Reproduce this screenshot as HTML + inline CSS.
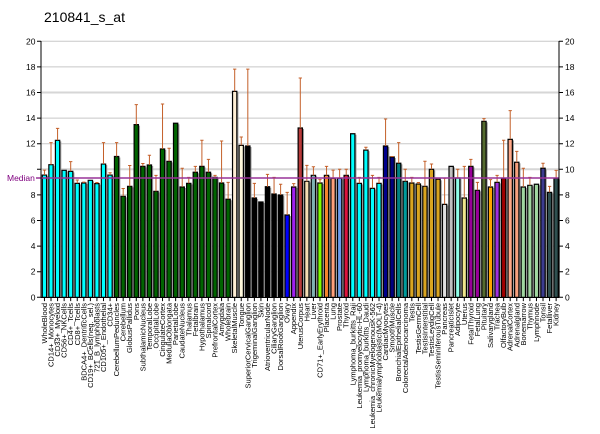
<!DOCTYPE html>
<html><head><meta charset="utf-8"><style>html,body{margin:0;padding:0;background:#fff}svg{display:block}</style></head>
<body>
<svg width="600" height="434" viewBox="0 0 600 434" xmlns="http://www.w3.org/2000/svg" font-family="'Liberation Sans', Arial, sans-serif">
<rect width="600" height="434" fill="#fff"/>
<text x="44" y="22" font-size="14" fill="#000">210841_s_at</text>
<!-- gridlines -->
<g stroke="#c8c8c8" stroke-width="1">
<line x1="41" x2="559" y1="271.7" y2="271.7"/>
<line x1="41" x2="559" y1="246.1" y2="246.1"/>
<line x1="41" x2="559" y1="220.5" y2="220.5"/>
<line x1="41" x2="559" y1="194.9" y2="194.9"/>
<line x1="41" x2="559" y1="169.3" y2="169.3" stroke="#d6d6d6" stroke-width="2"/>
<line x1="41" x2="559" y1="143.7" y2="143.7"/>
<line x1="41" x2="559" y1="118.1" y2="118.1"/>
<line x1="41" x2="559" y1="92.5" y2="92.5" stroke="#d6d6d6" stroke-width="2"/>
<line x1="41" x2="559" y1="66.9" y2="66.9"/>
<line x1="41" x2="559" y1="41.3" y2="41.3"/>
</g>
<g transform="translate(41.7,297.3) scale(6.56,-12.8)">
<!-- shadows -->
<g fill="#a0a0a0">
<rect x="0.23" y="0" width="0.76" height="9.47"/>
<rect x="1.23" y="0" width="0.76" height="10.28"/>
<rect x="2.23" y="0" width="0.76" height="12.18"/>
<rect x="3.23" y="0" width="0.76" height="9.84"/>
<rect x="4.23" y="0" width="0.76" height="9.76"/>
<rect x="5.23" y="0" width="0.76" height="8.82"/>
<rect x="6.23" y="0" width="0.76" height="8.85"/>
<rect x="7.23" y="0" width="0.76" height="9.06"/>
<rect x="8.23" y="0" width="0.76" height="8.8"/>
<rect x="9.23" y="0" width="0.76" height="10.33"/>
<rect x="10.23" y="0" width="0.76" height="9.47"/>
<rect x="11.23" y="0" width="0.76" height="10.92"/>
<rect x="12.23" y="0" width="0.76" height="7.81"/>
<rect x="13.23" y="0" width="0.76" height="8.59"/>
<rect x="14.23" y="0" width="0.76" height="13.41"/>
<rect x="15.23" y="0" width="0.76" height="10.15"/>
<rect x="16.23" y="0" width="0.76" height="10.26"/>
<rect x="17.23" y="0" width="0.76" height="8.2"/>
<rect x="18.23" y="0" width="0.76" height="11.51"/>
<rect x="19.23" y="0" width="0.76" height="10.54"/>
<rect x="20.23" y="0" width="0.76" height="13.52"/>
<rect x="21.23" y="0" width="0.76" height="8.54"/>
<rect x="22.23" y="0" width="0.76" height="8.82"/>
<rect x="23.23" y="0" width="0.76" height="9.69"/>
<rect x="24.23" y="0" width="0.76" height="10.15"/>
<rect x="25.23" y="0" width="0.76" height="9.69"/>
<rect x="26.23" y="0" width="0.76" height="9.29"/>
<rect x="27.23" y="0" width="0.76" height="8.85"/>
<rect x="28.23" y="0" width="0.76" height="7.58"/>
<rect x="29.23" y="0" width="0.76" height="16.01"/>
<rect x="30.23" y="0" width="0.76" height="11.79"/>
<rect x="31.23" y="0" width="0.76" height="11.74"/>
<rect x="32.23" y="0" width="0.76" height="7.68"/>
<rect x="33.23" y="0" width="0.76" height="7.37"/>
<rect x="34.23" y="0" width="0.76" height="8.56"/>
<rect x="35.23" y="0" width="0.76" height="7.99"/>
<rect x="36.23" y="0" width="0.76" height="7.91"/>
<rect x="37.23" y="0" width="0.76" height="6.35"/>
<rect x="38.23" y="0" width="0.76" height="8.54"/>
<rect x="39.23" y="0" width="0.76" height="13.15"/>
<rect x="40.23" y="0" width="0.76" height="8.98"/>
<rect x="41.23" y="0" width="0.76" height="9.45"/>
<rect x="42.23" y="0" width="0.76" height="8.85"/>
<rect x="43.23" y="0" width="0.76" height="9.45"/>
<rect x="44.23" y="0" width="0.76" height="9.22"/>
<rect x="45.23" y="0" width="0.76" height="9.22"/>
<rect x="46.23" y="0" width="0.76" height="9.45"/>
<rect x="47.23" y="0" width="0.76" height="12.7"/>
<rect x="48.23" y="0" width="0.76" height="8.82"/>
<rect x="49.23" y="0" width="0.76" height="11.42"/>
<rect x="50.23" y="0" width="0.76" height="8.43"/>
<rect x="51.23" y="0" width="0.76" height="8.82"/>
<rect x="52.23" y="0" width="0.76" height="11.74"/>
<rect x="53.23" y="0" width="0.76" height="10.88"/>
<rect x="54.23" y="0" width="0.76" height="10.39"/>
<rect x="55.23" y="0" width="0.76" height="8.98"/>
<rect x="56.23" y="0" width="0.76" height="8.85"/>
<rect x="57.23" y="0" width="0.76" height="8.77"/>
<rect x="58.23" y="0" width="0.76" height="8.59"/>
<rect x="59.23" y="0" width="0.76" height="9.92"/>
<rect x="60.23" y="0" width="0.76" height="9.14"/>
<rect x="61.23" y="0" width="0.76" height="7.18"/>
<rect x="62.23" y="0" width="0.76" height="10.15"/>
<rect x="63.23" y="0" width="0.76" height="9.24"/>
<rect x="64.23" y="0" width="0.76" height="7.68"/>
<rect x="65.23" y="0" width="0.76" height="10.15"/>
<rect x="66.23" y="0" width="0.76" height="8.28"/>
<rect x="67.23" y="0" width="0.76" height="13.67"/>
<rect x="68.23" y="0" width="0.76" height="8.54"/>
<rect x="69.23" y="0" width="0.76" height="8.9"/>
<rect x="70.23" y="0" width="0.76" height="9.22"/>
<rect x="71.23" y="0" width="0.76" height="12.26"/>
<rect x="72.23" y="0" width="0.76" height="10.47"/>
<rect x="73.23" y="0" width="0.76" height="8.54"/>
<rect x="74.23" y="0" width="0.76" height="8.67"/>
<rect x="75.23" y="0" width="0.76" height="8.75"/>
<rect x="76.23" y="0" width="0.76" height="10"/>
<rect x="77.23" y="0" width="0.76" height="8.12"/>
<rect x="78.23" y="0" width="0.76" height="9.22"/>
</g>
<!-- bars -->
<g stroke="#000" stroke-width="1.2" vector-effect="non-scaling-stroke">
<rect vector-effect="non-scaling-stroke" x="0.09" y="0" width="0.655" height="9.55" fill="#00ffff"/>
<rect vector-effect="non-scaling-stroke" x="1.09" y="0" width="0.655" height="10.36" fill="#00ffff"/>
<rect vector-effect="non-scaling-stroke" x="2.09" y="0" width="0.655" height="12.26" fill="#00ffff"/>
<rect vector-effect="non-scaling-stroke" x="3.09" y="0" width="0.655" height="9.92" fill="#00ffff"/>
<rect vector-effect="non-scaling-stroke" x="4.09" y="0" width="0.655" height="9.84" fill="#00ffff"/>
<rect vector-effect="non-scaling-stroke" x="5.09" y="0" width="0.655" height="8.9" fill="#00ffff"/>
<rect vector-effect="non-scaling-stroke" x="6.09" y="0" width="0.655" height="8.93" fill="#00ffff"/>
<rect vector-effect="non-scaling-stroke" x="7.09" y="0" width="0.655" height="9.14" fill="#00ffff"/>
<rect vector-effect="non-scaling-stroke" x="8.09" y="0" width="0.655" height="8.88" fill="#00ffff"/>
<rect vector-effect="non-scaling-stroke" x="9.09" y="0" width="0.655" height="10.41" fill="#00ffff"/>
<rect vector-effect="non-scaling-stroke" x="10.09" y="0" width="0.655" height="9.55" fill="#00ffff"/>
<rect vector-effect="non-scaling-stroke" x="11.09" y="0" width="0.655" height="11.0" fill="#006400"/>
<rect vector-effect="non-scaling-stroke" x="12.09" y="0" width="0.655" height="7.89" fill="#006400"/>
<rect vector-effect="non-scaling-stroke" x="13.09" y="0" width="0.655" height="8.67" fill="#006400"/>
<rect vector-effect="non-scaling-stroke" x="14.09" y="0" width="0.655" height="13.49" fill="#006400"/>
<rect vector-effect="non-scaling-stroke" x="15.09" y="0" width="0.655" height="10.23" fill="#006400"/>
<rect vector-effect="non-scaling-stroke" x="16.09" y="0" width="0.655" height="10.34" fill="#006400"/>
<rect vector-effect="non-scaling-stroke" x="17.09" y="0" width="0.655" height="8.28" fill="#006400"/>
<rect vector-effect="non-scaling-stroke" x="18.09" y="0" width="0.655" height="11.59" fill="#006400"/>
<rect vector-effect="non-scaling-stroke" x="19.09" y="0" width="0.655" height="10.62" fill="#006400"/>
<rect vector-effect="non-scaling-stroke" x="20.09" y="0" width="0.655" height="13.6" fill="#006400"/>
<rect vector-effect="non-scaling-stroke" x="21.09" y="0" width="0.655" height="8.62" fill="#006400"/>
<rect vector-effect="non-scaling-stroke" x="22.09" y="0" width="0.655" height="8.9" fill="#006400"/>
<rect vector-effect="non-scaling-stroke" x="23.09" y="0" width="0.655" height="9.77" fill="#006400"/>
<rect vector-effect="non-scaling-stroke" x="24.09" y="0" width="0.655" height="10.23" fill="#006400"/>
<rect vector-effect="non-scaling-stroke" x="25.09" y="0" width="0.655" height="9.77" fill="#006400"/>
<rect vector-effect="non-scaling-stroke" x="26.09" y="0" width="0.655" height="9.37" fill="#006400"/>
<rect vector-effect="non-scaling-stroke" x="27.09" y="0" width="0.655" height="8.93" fill="#006400"/>
<rect vector-effect="non-scaling-stroke" x="28.09" y="0" width="0.655" height="7.66" fill="#006400"/>
<rect vector-effect="non-scaling-stroke" x="29.09" y="0" width="0.655" height="16.09" fill="#ffefd5"/>
<rect vector-effect="non-scaling-stroke" x="30.09" y="0" width="0.655" height="11.87" fill="#fff8dc"/>
<rect vector-effect="non-scaling-stroke" x="31.09" y="0" width="0.655" height="11.82" fill="#000"/>
<rect vector-effect="non-scaling-stroke" x="32.09" y="0" width="0.655" height="7.76" fill="#000"/>
<rect vector-effect="non-scaling-stroke" x="33.09" y="0" width="0.655" height="7.45" fill="#000"/>
<rect vector-effect="non-scaling-stroke" x="34.09" y="0" width="0.655" height="8.64" fill="#000"/>
<rect vector-effect="non-scaling-stroke" x="35.09" y="0" width="0.655" height="8.07" fill="#000"/>
<rect vector-effect="non-scaling-stroke" x="36.09" y="0" width="0.655" height="7.99" fill="#000"/>
<rect vector-effect="non-scaling-stroke" x="37.09" y="0" width="0.655" height="6.43" fill="#0000ff"/>
<rect vector-effect="non-scaling-stroke" x="38.09" y="0" width="0.655" height="8.62" fill="#a020f0"/>
<rect vector-effect="non-scaling-stroke" x="39.09" y="0" width="0.655" height="13.23" fill="#b83a3a"/>
<rect vector-effect="non-scaling-stroke" x="40.09" y="0" width="0.655" height="9.06" fill="#f5deb3"/>
<rect vector-effect="non-scaling-stroke" x="41.09" y="0" width="0.655" height="9.53" fill="#7fb2b2"/>
<rect vector-effect="non-scaling-stroke" x="42.09" y="0" width="0.655" height="8.93" fill="#7fff00"/>
<rect vector-effect="non-scaling-stroke" x="43.09" y="0" width="0.655" height="9.53" fill="#f4842c"/>
<rect vector-effect="non-scaling-stroke" x="44.09" y="0" width="0.655" height="9.3" fill="#ffa07a"/>
<rect vector-effect="non-scaling-stroke" x="45.09" y="0" width="0.655" height="9.3" fill="#6f9cee"/>
<rect vector-effect="non-scaling-stroke" x="46.09" y="0" width="0.655" height="9.53" fill="#dc143c"/>
<rect vector-effect="non-scaling-stroke" x="47.09" y="0" width="0.655" height="12.78" fill="#00ffff"/>
<rect vector-effect="non-scaling-stroke" x="48.09" y="0" width="0.655" height="8.9" fill="#00ffff"/>
<rect vector-effect="non-scaling-stroke" x="49.09" y="0" width="0.655" height="11.5" fill="#00ffff"/>
<rect vector-effect="non-scaling-stroke" x="50.09" y="0" width="0.655" height="8.51" fill="#00ffff"/>
<rect vector-effect="non-scaling-stroke" x="51.09" y="0" width="0.655" height="8.9" fill="#00ffff"/>
<rect vector-effect="non-scaling-stroke" x="52.09" y="0" width="0.655" height="11.82" fill="#00008b"/>
<rect vector-effect="non-scaling-stroke" x="53.09" y="0" width="0.655" height="10.96" fill="#000080"/>
<rect vector-effect="non-scaling-stroke" x="54.09" y="0" width="0.655" height="10.47" fill="#008080"/>
<rect vector-effect="non-scaling-stroke" x="55.09" y="0" width="0.655" height="9.06" fill="#009b9b"/>
<rect vector-effect="non-scaling-stroke" x="56.09" y="0" width="0.655" height="8.93" fill="#daa520"/>
<rect vector-effect="non-scaling-stroke" x="57.09" y="0" width="0.655" height="8.85" fill="#daa520"/>
<rect vector-effect="non-scaling-stroke" x="58.09" y="0" width="0.655" height="8.67" fill="#daa520"/>
<rect vector-effect="non-scaling-stroke" x="59.09" y="0" width="0.655" height="10.0" fill="#daa520"/>
<rect vector-effect="non-scaling-stroke" x="60.09" y="0" width="0.655" height="9.22" fill="#daa520"/>
<rect vector-effect="non-scaling-stroke" x="61.09" y="0" width="0.655" height="7.26" fill="#e0e0e0"/>
<rect vector-effect="non-scaling-stroke" x="62.09" y="0" width="0.655" height="10.23" fill="#c0c0c0"/>
<rect vector-effect="non-scaling-stroke" x="63.09" y="0" width="0.655" height="9.32" fill="#8fffe8"/>
<rect vector-effect="non-scaling-stroke" x="64.09" y="0" width="0.655" height="7.76" fill="#eee68c"/>
<rect vector-effect="non-scaling-stroke" x="65.09" y="0" width="0.655" height="10.23" fill="#990099"/>
<rect vector-effect="non-scaling-stroke" x="66.09" y="0" width="0.655" height="8.36" fill="#990099"/>
<rect vector-effect="non-scaling-stroke" x="67.09" y="0" width="0.655" height="13.75" fill="#556b2f"/>
<rect vector-effect="non-scaling-stroke" x="68.09" y="0" width="0.655" height="8.62" fill="#ffa500"/>
<rect vector-effect="non-scaling-stroke" x="69.09" y="0" width="0.655" height="8.98" fill="#a030e0"/>
<rect vector-effect="non-scaling-stroke" x="70.09" y="0" width="0.655" height="9.3" fill="#a00000"/>
<rect vector-effect="non-scaling-stroke" x="71.09" y="0" width="0.655" height="12.34" fill="#ffa888"/>
<rect vector-effect="non-scaling-stroke" x="72.09" y="0" width="0.655" height="10.55" fill="#f8a07e"/>
<rect vector-effect="non-scaling-stroke" x="73.09" y="0" width="0.655" height="8.62" fill="#a0d6a0"/>
<rect vector-effect="non-scaling-stroke" x="74.09" y="0" width="0.655" height="8.75" fill="#a0d6a0"/>
<rect vector-effect="non-scaling-stroke" x="75.09" y="0" width="0.655" height="8.83" fill="#a0d6a0"/>
<rect vector-effect="non-scaling-stroke" x="76.09" y="0" width="0.655" height="10.08" fill="#3c3c90"/>
<rect vector-effect="non-scaling-stroke" x="77.09" y="0" width="0.655" height="8.2" fill="#2f5050"/>
<rect vector-effect="non-scaling-stroke" x="78.09" y="0" width="0.655" height="9.3" fill="#2f5050"/>
</g>
<!-- error bars -->
<path fill="none" stroke="#c4602a" stroke-width="1" vector-effect="non-scaling-stroke" d="
M0.42 9.55V9.94M0.17 9.94h0.5
M1.42 10.36V12.08M1.17 12.08h0.5
M2.42 12.26V13.2M2.17 13.2h0.5
M4.42 9.84V10.6M4.17 10.6h0.5
M5.42 8.9V9.16M5.17 9.16h0.5
M6.42 8.93V9.0M6.17 9.0h0.5
M8.42 8.88V8.97M8.17 8.97h0.5
M9.42 10.41V12.08M9.17 12.08h0.5
M10.42 9.55V9.73M10.17 9.73h0.5
M11.42 11.0V12.08M11.17 12.08h0.5
M12.42 7.89V8.5M12.17 8.5h0.5
M13.42 8.67V10.3M13.17 10.3h0.5
M14.42 13.49V15.05M14.17 15.05h0.5
M15.42 10.23V10.45M15.17 10.45h0.5
M16.42 10.34V11.1M16.17 11.1h0.5
M17.42 8.28V9.53M17.17 9.53h0.5
M18.42 11.59V15.1M18.17 15.1h0.5
M19.42 10.62V11.64M19.17 11.64h0.5
M21.42 8.62V10.08M21.17 10.08h0.5
M22.42 8.9V9.37M22.17 9.37h0.5
M23.42 9.77V10.23M23.17 10.23h0.5
M24.42 10.23V12.27M24.17 12.27h0.5
M25.42 9.77V10.78M25.17 10.78h0.5
M26.42 9.37V9.53M26.17 9.53h0.5
M27.42 8.93V12.21M27.17 12.21h0.5
M28.42 7.66V8.98M28.17 8.98h0.5
M29.42 16.09V17.83M29.17 17.83h0.5
M30.42 11.87V12.52M30.17 12.52h0.5
M31.42 11.82V17.83M31.17 17.83h0.5
M32.42 7.76V8.9M32.17 8.9h0.5
M34.42 8.64V9.6M34.17 9.6h0.5
M35.42 8.07V9.37M35.17 9.37h0.5
M36.42 7.99V8.83M36.17 8.83h0.5
M37.42 6.43V8.2M37.17 8.2h0.5
M38.42 8.62V8.88M38.17 8.88h0.5
M39.42 13.23V17.13M39.17 17.13h0.5
M40.42 9.06V10.31M40.17 10.31h0.5
M41.42 9.53V10.2M41.17 10.2h0.5
M42.42 8.93V9.19M42.17 9.19h0.5
M43.42 9.53V10.23M43.17 10.23h0.5
M44.42 9.3V9.94M44.17 9.94h0.5
M45.42 9.3V10.0M45.17 10.0h0.5
M46.42 9.53V10.0M46.17 10.0h0.5
M48.42 8.9V9.37M48.17 9.37h0.5
M49.42 11.5V11.72M49.17 11.72h0.5
M50.42 8.51V9.53M50.17 9.53h0.5
M51.42 8.9V9.37M51.17 9.37h0.5
M52.42 11.82V13.93M52.17 13.93h0.5
M53.42 10.96V11.0M53.17 11.0h0.5
M54.42 10.47V12.08M54.17 12.08h0.5
M55.42 9.06V10.0M55.17 10.0h0.5
M56.42 8.93V9.37M56.17 9.37h0.5
M57.42 8.85V8.97M57.17 8.97h0.5
M58.42 8.67V10.63M58.17 10.63h0.5
M59.42 10.0V10.41M59.17 10.41h0.5
M60.42 9.22V9.3M60.17 9.3h0.5
M61.42 7.26V9.3M61.17 9.3h0.5
M63.42 9.32V10.0M63.17 10.0h0.5
M64.42 7.76V10.23M64.17 10.23h0.5
M65.42 10.23V10.78M65.17 10.78h0.5
M66.42 8.36V8.98M66.17 8.98h0.5
M67.42 13.75V13.96M67.17 13.96h0.5
M68.42 8.62V9.19M68.17 9.19h0.5
M69.42 8.98V9.53M69.17 9.53h0.5
M70.42 9.3V12.27M70.17 12.27h0.5
M71.42 12.34V14.58M71.17 14.58h0.5
M72.42 10.55V11.4M72.17 11.4h0.5
M73.42 8.62V10.08M73.17 10.08h0.5
M74.42 8.75V9.37M74.17 9.37h0.5
M76.42 10.08V10.47M76.17 10.47h0.5
M77.42 8.2V8.67M77.17 8.67h0.5
M78.42 9.3V9.92M78.17 9.92h0.5"/>
</g>
<!-- median -->
<line x1="36" x2="559" y1="178" y2="178" stroke="#993399" stroke-width="1.4"/>
<text x="7" y="181" font-size="8.5" fill="#800080">Median</text>
<!-- axes -->
<g stroke="#000" stroke-width="1" fill="none">
<line x1="41" y1="41" x2="41" y2="297.8"/>
<line x1="559" y1="41" x2="559" y2="297.8"/>
<line x1="41" y1="297.5" x2="559" y2="297.5"/>
<line x1="43.95" y1="299.3" x2="559" y2="299.3" stroke-width="3.6" stroke-dasharray="1 5.56"/>
<path d="M37 297.3h4M37 271.7h4M37 246.1h4M37 220.5h4M37 194.9h4M37 169.3h4M37 143.7h4M37 118.1h4M37 92.5h4M37 66.9h4M37 41.3h4"/>
<path d="M559 297.3h4M559 271.7h4M559 246.1h4M559 220.5h4M559 194.9h4M559 169.3h4M559 143.7h4M559 118.1h4M559 92.5h4M559 66.9h4M559 41.3h4"/>
</g>
<g font-size="8.5" fill="#000" text-anchor="end">
<text x="35.5" y="300.3">0</text>
<text x="35.5" y="274.7">2</text>
<text x="35.5" y="249.1">4</text>
<text x="35.5" y="223.5">6</text>
<text x="35.5" y="197.9">8</text>
<text x="35.5" y="146.7">12</text>
<text x="35.5" y="121.1">14</text>
<text x="35.5" y="95.5">16</text>
<text x="35.5" y="69.9">18</text>
<text x="35.5" y="44.3">20</text>
</g>
<g font-size="8.5" fill="#000">
<text x="565" y="300.3">0</text>
<text x="565" y="274.7">2</text>
<text x="565" y="249.1">4</text>
<text x="565" y="223.5">6</text>
<text x="565" y="197.9">8</text>
<text x="565" y="172.3">10</text>
<text x="565" y="146.7">12</text>
<text x="565" y="121.1">14</text>
<text x="565" y="95.5">16</text>
<text x="565" y="69.9">18</text>
<text x="565" y="44.3">20</text>
</g>
<!-- x labels -->
<g transform="translate(0,303) rotate(-90)" font-size="7.5" fill="#000" text-anchor="end">
<text x="0" y="46.95">WholeBlood</text>
<text x="0" y="53.51">CD14+_Monocytes</text>
<text x="0" y="60.07">CD33+_Myeloid</text>
<text x="0" y="66.63">CD56+_NKCells</text>
<text x="0" y="73.19">CD4+_Tcells</text>
<text x="0" y="79.75">CD8+_Tcells</text>
<text x="0" y="86.31">BDCA4+_DentriticCells</text>
<text x="0" y="92.87">CD19+_BCells(neg._sel.)</text>
<text x="0" y="99.43">721_B_lymphoblasts</text>
<text x="0" y="105.99">CD105+_Endothelial</text>
<text x="0" y="112.55">CD34+</text>
<text x="0" y="119.11">CerebellumPeduncles</text>
<text x="0" y="125.67">Cerebellum</text>
<text x="0" y="132.23">GlobusPallidus</text>
<text x="0" y="138.79">Pons</text>
<text x="0" y="145.35">SubthalamicNucleus</text>
<text x="0" y="151.91">TemporalLobe</text>
<text x="0" y="158.47">OccipitalLobe</text>
<text x="0" y="165.03">CingulateCortex</text>
<text x="0" y="171.59">MedullaOblongata</text>
<text x="0" y="178.15">ParietalLobe</text>
<text x="0" y="184.71">CaudateNucleus</text>
<text x="0" y="191.27">Thalamus</text>
<text x="0" y="197.83">Fetalbrain</text>
<text x="0" y="204.39">Hypothalamus</text>
<text x="0" y="210.95">Spinalcord</text>
<text x="0" y="217.51">PrefrontalCortex</text>
<text x="0" y="224.07">Amygdala</text>
<text x="0" y="230.63">Wholebrain</text>
<text x="0" y="237.19">SkeletalMuscle</text>
<text x="0" y="243.75">Tongue</text>
<text x="0" y="250.31">SuperiorCervicalGanglion</text>
<text x="0" y="256.87">TrigeminalGanglion</text>
<text x="0" y="263.43">Skin</text>
<text x="0" y="269.99">AtrioventricularNode</text>
<text x="0" y="276.55">CiliaryGanglion</text>
<text x="0" y="283.11">DorsalRootGanglion</text>
<text x="0" y="289.67">Ovary</text>
<text x="0" y="296.23">Appendix</text>
<text x="0" y="302.79">UterusCorpus</text>
<text x="0" y="309.35">Heart</text>
<text x="0" y="315.91">Liver</text>
<text x="0" y="322.47">CD71+_EarlyErythroid</text>
<text x="0" y="329.03">Placenta</text>
<text x="0" y="335.59">Lung</text>
<text x="0" y="342.15">Prostate</text>
<text x="0" y="348.71">Thyroid</text>
<text x="0" y="355.27">Lymphoma_burkitts_Raji</text>
<text x="0" y="361.83">Leukemia_promyelocytic-HL-60</text>
<text x="0" y="368.39">Lymphoma_burkitts_Daudi</text>
<text x="0" y="374.95">Leukemia_chronicMyelogenousK-562</text>
<text x="0" y="381.51">Leukemialymphoblastic(MOLT-4)</text>
<text x="0" y="388.07">CardiacMyocytes</text>
<text x="0" y="394.63">SmoothMuscle</text>
<text x="0" y="401.19">BronchialEpithelialCells</text>
<text x="0" y="407.75">ColorectalAdenocarcinoma</text>
<text x="0" y="414.31">Testis</text>
<text x="0" y="420.87">TestisGermCell</text>
<text x="0" y="427.43">TestisInterstitial</text>
<text x="0" y="433.99">TestisLeydigCell</text>
<text x="0" y="440.55">TestisSeminiferousTubule</text>
<text x="0" y="447.11">Pancreas</text>
<text x="0" y="453.67">PancreaticIslet</text>
<text x="0" y="460.23">Adipocyte</text>
<text x="0" y="466.79">Uterus</text>
<text x="0" y="473.35">FetalThyroid</text>
<text x="0" y="479.91">FetalLung</text>
<text x="0" y="486.47">Pituitary</text>
<text x="0" y="493.03">Salivarygland</text>
<text x="0" y="499.59">Trachea</text>
<text x="0" y="506.15">OlfactoryBulb</text>
<text x="0" y="512.71">AdrenalCortex</text>
<text x="0" y="519.27">Adrenalgland</text>
<text x="0" y="525.83">Bonemarrow</text>
<text x="0" y="532.39">Thymus</text>
<text x="0" y="538.95">Lymphnode</text>
<text x="0" y="545.51">Tonsil</text>
<text x="0" y="552.07">Fetalliver</text>
<text x="0" y="558.63">Kidney</text>
</g>
</svg>
</body></html>
